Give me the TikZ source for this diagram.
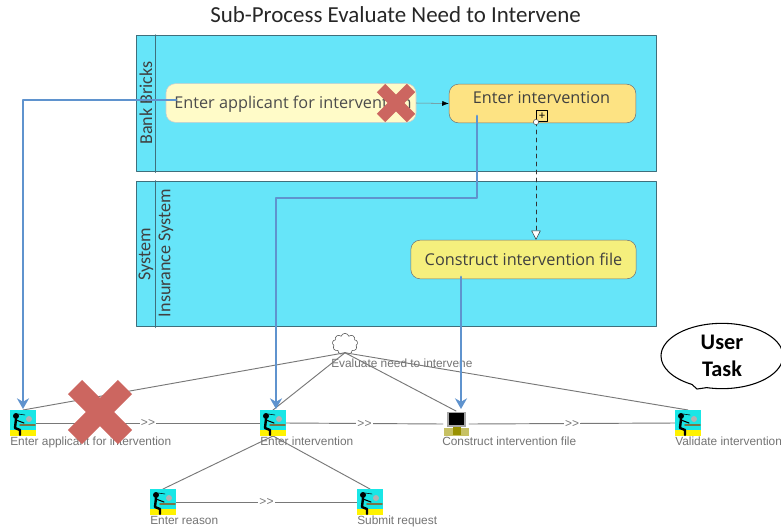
\documentclass[tikz,border=0pt]{standalone}
\usepackage{fontspec}
\setmainfont{Carlito}
\newfontfamily\taskfont{Open Sans}
\newfontfamily\labelfont{Liberation Sans}
\usetikzlibrary{arrows.meta}
\usetikzlibrary{shapes.misc,shapes.symbols,shapes.callouts}
\definecolor{lanecyan}{HTML}{66E5F9}
\definecolor{lanerule}{HTML}{3F6F7C}
\definecolor{blueline}{HTML}{5F93CE}
\definecolor{crossred}{HTML}{CC6660}
\definecolor{seqgray}{HTML}{787878}
\definecolor{applfill}{HTML}{FFFBC8}
\definecolor{entfill}{HTML}{FDE383}
\definecolor{filefill}{HTML}{F5EF7D}
\definecolor{iconcyan}{HTML}{19E6E6}
\definecolor{iconyellow}{HTML}{FFF200}
\tikzset{
  lanebox/.style={draw=lanerule,fill=lanecyan,line width=1pt,inner sep=0pt,anchor=north west},
  lanetext/.style={rotate=90,font=\fontsize{13.6}{16}\selectfont,text=black!75,inner sep=0pt},
  taskbox/.style={draw=black!55,rounded corners=7pt,inner sep=0pt,minimum height=29pt,font=\taskfont\fontsize{12.2}{14}\selectfont,text=black!75},
  bluearrow/.style={draw=blueline,line width=2.2pt,-{Stealth[length=8pt,width=9pt]}},
  seqline/.style={draw=seqgray,line width=0.7pt},
  seqmark/.style={fill=white,inner sep=1pt,text=seqgray,font=\labelfont\fontsize{9}{10}\selectfont},
  tasklabel/.style={anchor=north west,inner sep=0pt,text=black!55,font=\labelfont\fontsize{8.9}{10}\selectfont},
  crossmark/.style={cross out,draw=crossred,inner sep=0pt,outer sep=0pt,line cap=butt},
  iconbox/.style={inner sep=0pt,outer sep=0pt,minimum size=19.5pt},
  userglyph/.pic={
    \fill [iconcyan] (-13,-13) rectangle (13,7);
    \fill [iconyellow] (-13,7) rectangle (13,13);
    \fill [black] (-7,-7) circle (3);
    \draw [black,line width=1.8pt] (-7,-4)--(-8,5)--(-3,7)--(-3,12);
    \draw [black,line width=0.8pt] (-7,-3)--(1,0);
    \draw [black!60!yellow,line width=1.2pt] (-3,2)--(12,2);
    \fill [black!30] (6,-4) circle (3);
    \draw [black,line width=0.4pt] (-5,-9)--(2,-8);
  },
  pcglyph/.pic={
    \fill [black!35] (-9,-12) rectangle (10,3);
    \fill [black] (-7,-11) rectangle (8,1);
    \fill [olive!50] (-12,4) rectangle (13,12);
    \fill [olive!90!yellow] (-3,3) rectangle (5,11);
  }
}
\begin{document}
\begin{tikzpicture}[line cap=round,line join=round,x=0.75pt,y=-0.75pt]
\useasboundingbox (0,0) rectangle (781,529);
\node [font=\fontsize{17.2}{20}\selectfont,text=black!85] (title) at (395.5,15) {Sub-Process Evaluate Need to Intervene};
% the two lanes
\node [lanebox,minimum width=390pt,minimum height=102pt] (bank) at (136,35) {};
\node [lanebox,minimum width=390pt,minimum height=108.75pt] (system) at (136,181) {};
\coordinate (bankrule) at (155.5,35);
\coordinate (sysrule) at (155.5,181);
\draw [lanerule,line width=1pt] (bankrule)--(bankrule |- bank.south);
\draw [lanerule,line width=1.2pt] (sysrule)--(sysrule |- system.south);
\node [lanetext] (banktext) at (146,103) {Bank Bricks};
\node [lanetext] (systext) at (146,254) {System};
\node [lanetext] (instext) at (166,253) {Insurance System};
% tasks of the process
\node [taskbox,fill=applfill,draw=black!20,minimum width=187.5pt] (applbox) at (291,103) {};
\node [anchor=west,inner sep=0pt,font=\taskfont\fontsize{12.2}{14}\selectfont,text=black!70] (appltext) at (174,104.5) {Enter applicant for intervention};
\node [taskbox,fill=entfill,minimum width=140pt] (entbox) at (542.5,103.5) {};
\node [inner sep=0pt,font=\taskfont\fontsize{12.2}{14}\selectfont,text=black!75] (enttext) at (541.5,97.5) {Enter intervention};
\node [taskbox,fill=filefill,minimum width=169pt] (filebox) at (523.5,259.5) {Construct intervention file};
\draw [black!50,-{Latex[length=5pt,black]}] (applbox.east)--(entbox.west);
\node [draw=black,fill=entfill,inner sep=0pt,minimum size=8.5pt,font=\fontsize{9}{9}\selectfont] (plusbox) at (542,116) {+};
\coordinate (dashstart) at (536,122);
\draw [dashed,black!80,-{Triangle[length=7pt,width=7pt,fill=white]}] (dashstart)--(dashstart |- filebox.north);
\node [circle,draw=black!70,fill=white,inner sep=0pt,minimum size=4pt] (dashdot) at (dashstart) {};
% activity tree
\node [cloud,draw=black!70,fill=white,cloud puffs=9,inner sep=0pt,minimum width=19pt,minimum height=16pt] (evalcloud) at (345,344) {};
\node [tasklabel] (evaltext) at (331,358.5) {Evaluate need to intervene};
\node [iconbox] (ea) at (23,423) {};
\node [iconbox] (ei) at (273,423) {};
\node [iconbox] (cf) at (456,424) {};
\node [iconbox] (vi) at (688,423) {};
\node [iconbox] (er) at (163,502) {};
\node [iconbox] (sr) at (370,502) {};
\node [tasklabel] (eatext) at (10,437) {Enter applicant for intervention};
\node [tasklabel] (eitext) at (260,437) {Enter intervention};
\node [tasklabel] (cftext) at (442,437) {Construct intervention file};
\node [tasklabel] (vitext) at (675,437) {Validate intervention};
\node [tasklabel] (ertext) at (150,516) {Enter reason};
\node [tasklabel] (srtext) at (357,516) {Submit request};
\draw [seqline] (evalcloud.south)--(ea.north);
\draw [seqline] (evalcloud.south)--(ei.north);
\draw [seqline] (evalcloud.south)--(cf.north);
\draw [seqline] (evalcloud.south)--(vi.north);
\draw [seqline] (ei.south)--(er.north);
\draw [seqline] (ei.south)--(sr.north);
\draw [seqline] (ea.east)--node [seqmark] {>>} (ei.west);
\draw [seqline] (ei.east)--node [seqmark] {>>} (cf.west);
\draw [seqline] (cf.east)--node [seqmark] {>>} (vi.west);
\draw [seqline] (er.east)--node [seqmark] {>>} (sr.west);
\foreach \n in {ea,ei,vi,er,sr}
  \pic at (\n) {userglyph};
\pic at (cf) {pcglyph};
% speech bubble
\coordinate (bubbletip) at (697,389);
\node [ellipse callout,draw=black,fill=white,line width=0.8pt,minimum width=91.5pt,minimum height=49pt,inner sep=0pt,callout absolute pointer=(bubbletip),align=center,font=\bfseries\fontsize{16.7}{20}\selectfont] (bubble) at (722,356) {User\\Task};
% red crosses
\node [crossmark,line width=9pt,minimum size=22.5pt] (crossone) at (396,103) {};
\node [crossmark,line width=15pt,minimum size=37.5pt] (crosstwo) at (100,412) {};
% blue mapping arrows
\coordinate (applstart) at (176,100);
\coordinate (entstart) at (477,116);
\coordinate (filestart) at (461,277);
\coordinate (eiend) at (276,409);
\coordinate (cfend) at (461,409);
\coordinate (eaend) at (23,409);
\draw [bluearrow] (applstart)-|(eaend);
\draw [bluearrow] (entstart)--(477,198)--(276,198)--(eiend);
\draw [bluearrow] (filestart)--(cfend);
\end{tikzpicture}
\end{document}
